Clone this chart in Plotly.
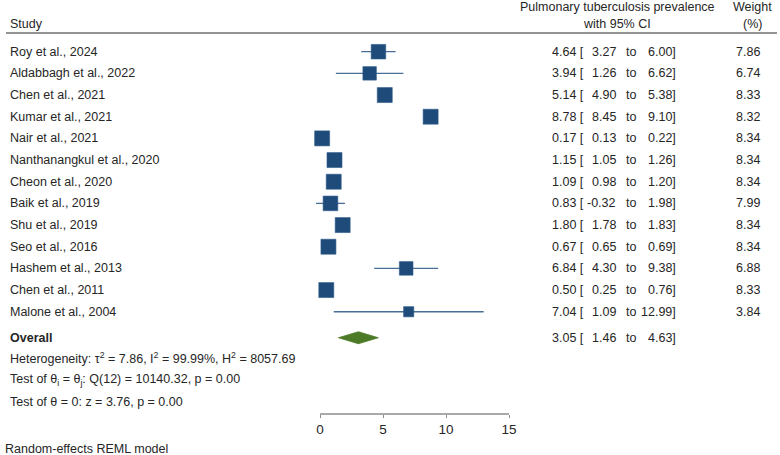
import plotly.graph_objects as go

studies = ["Roy et al., 2024", "Aldabbagh et al., 2022", "Chen et al., 2021", "Kumar et al., 2021",
           "Nair et al., 2021", "Nanthanangkul et al., 2020", "Cheon et al., 2020", "Baik et al., 2019",
           "Shu et al., 2019", "Seo et al., 2016", "Hashem et al., 2013", "Chen et al., 2011",
           "Malone et al., 2004"]
est = [4.64, 3.94, 5.14, 8.78, 0.17, 1.15, 1.09, 0.83, 1.80, 0.67, 6.84, 0.50, 7.04]
lo = [3.27, 1.26, 4.90, 8.45, 0.13, 1.05, 0.98, -0.32, 1.78, 0.65, 4.30, 0.25, 1.09]
hi = [6.00, 6.62, 5.38, 9.10, 0.22, 1.26, 1.20, 1.98, 1.83, 0.69, 9.38, 0.76, 12.99]
weight = [7.86, 6.74, 8.33, 8.32, 8.34, 8.34, 8.34, 7.99, 8.34, 8.34, 6.88, 8.33, 3.84]
overall = {"est": 3.05, "lo": 1.46, "hi": 4.63}
tick_vals = [0, 5, 10, 15]
tick_text = ["0", "5", "10", "15"]

FONT = "Liberation Sans, Arial, sans-serif"
TXT = "#262626"
FS = 12.5
W, H = 780, 455
BOTTOM = 41
PLOT_H = H - BOTTOM

# pixel geometry helpers
row0_px, row_step = 51.7, 21.67
x0_px, unit_px = 320.0, 12.6
y_top = -row0_px / row_step
y_bot = (PLOT_H - row0_px) / row_step
x_left = -x0_px / unit_px
x_right = (W - x0_px) / unit_px

def px(xp):
    return xp / W

rows = list(range(len(studies)))
y_overall = 13.2

fig = go.Figure()

# study CIs + squares
fig.add_trace(go.Scatter(
    x=est, y=rows, mode="markers",
    marker=dict(symbol="square", color="#1f4b7a", opacity=1,
                size=[15 * (w / 8.34) ** 0.5 for w in weight],
                line=dict(color="#2f5d8c", width=0.6)),
    error_x=dict(type="data", symmetric=False,
                 array=[h - e for h, e in zip(hi, est)],
                 arrayminus=[e - l for e, l in zip(est, lo)],
                 color="#4a6f96", thickness=1.3, width=0),
    hoverinfo="skip", showlegend=False, cliponaxis=False))

# overall diamond
dh = 6 / row_step
fig.add_trace(go.Scatter(
    x=[overall["lo"], overall["est"], overall["hi"], overall["est"], overall["lo"]],
    y=[y_overall, y_overall - dh, y_overall, y_overall + dh, y_overall],
    mode="lines", fill="toself", fillcolor="#4d7a26",
    line=dict(color="#4d7a26", width=0.8), hoverinfo="skip", showlegend=False))

ann = []
def text(x, y, s, anchor="left", bold=False, xref="paper"):
    ann.append(dict(x=x, y=y, xref=xref, yref="y", text=("<b>%s</b>" % s) if bold else s,
                    showarrow=False, xanchor=anchor, yanchor="middle",
                    font=dict(family=FONT, size=FS, color=TXT)))

# headers
text(px(8), -1.28, "Study")
text(px(617), -2.06, "Pulmonary tuberculosis prevalence", "center")
text(px(617), -1.28, "with 95% CI", "center")
text(px(752), -2.06, "Weight", "center")
text(px(752), -1.28, "(%)", "center")

for i, s in enumerate(studies):
    text(px(8), i, s)
    text(px(586), i, "%.2f [" % est[i], "right")
    text(px(618), i, "%.2f" % lo[i], "right")
    text(px(631), i, "to", "center")
    text(px(678), i, "%.2f]" % hi[i], "right")
    text(px(762), i, "%.2f" % weight[i], "right")

text(px(8), y_overall, "Overall", bold=True)
text(px(586), y_overall, "%.2f [" % overall["est"], "right")
text(px(618), y_overall, "%.2f" % overall["lo"], "right")
text(px(631), y_overall, "to", "center")
text(px(678), y_overall, "%.2f]" % overall["hi"], "right")

text(px(8), 14.15, "Heterogeneity: τ<sup>2</sup> = 7.86, I<sup>2</sup> = 99.99%, H<sup>2</sup> = 8057.69")
text(px(8), 15.15, "Test of θ<sub>i</sub> = θ<sub>j</sub>: Q(12) = 10140.32, p = 0.00")
text(px(8), 16.15, "Test of θ = 0: z = 3.76, p = 0.00")
ann.append(dict(x=px(3), y=(PLOT_H - 449) / PLOT_H, xref="paper", yref="paper",
                text="Random-effects REML model", showarrow=False, xanchor="left",
                yanchor="middle", font=dict(family=FONT, size=FS, color=TXT)))

shapes = [
    dict(type="line", xref="paper", yref="y", x0=px(6), x1=px(777), y0=-0.86, y1=-0.86,
         line=dict(color="#707070", width=1.5)),
    dict(type="line", xref="x", yref="paper", x0=tick_vals[0], x1=tick_vals[-1], y0=0, y1=0,
         line=dict(color="#8c8c8c", width=1.5)),
]

fig.update_layout(
    width=W, height=H, margin=dict(l=0, r=0, t=0, b=BOTTOM),
    paper_bgcolor="white", plot_bgcolor="white",
    annotations=ann, shapes=shapes,
    xaxis=dict(range=[x_left, x_right], tickvals=tick_vals, ticktext=tick_text,
               ticks="outside", ticklen=3, tickcolor="#8c8c8c", tickwidth=1.2,
               showgrid=False, zeroline=False, showline=False,
               tickfont=dict(family=FONT, size=13.5, color=TXT), fixedrange=True),
    yaxis=dict(range=[y_bot, y_top], visible=False, showgrid=False, zeroline=False, fixedrange=True),
)

fig.write_html("out.html", config={"displayModeBar": False},
               post_script="document.body.style.margin='0';")
